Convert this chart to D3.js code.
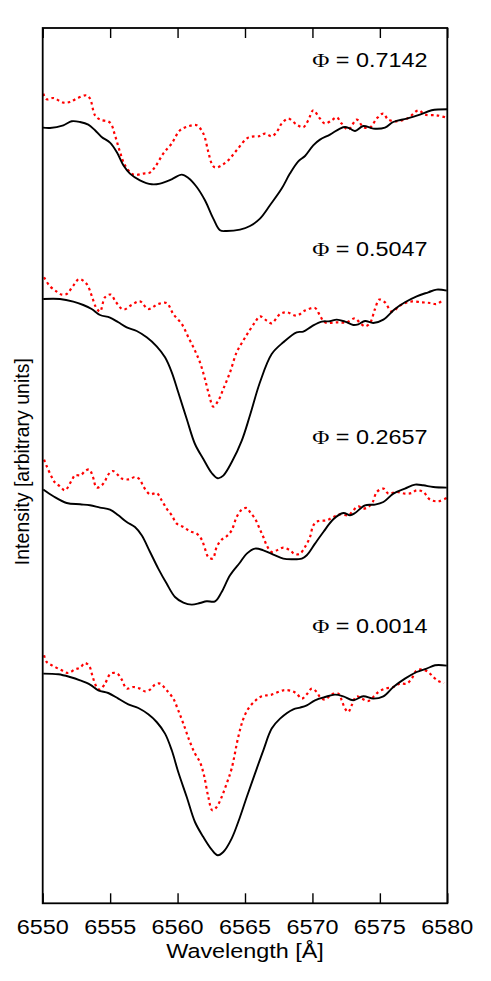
<!DOCTYPE html>
<html>
<head>
<meta charset="utf-8">
<script src="https://cdn.jsdelivr.net/npm/d3@7"></script>
<style>
  html, body { margin: 0; padding: 0; background: #fff; }
  svg { display: block; }
  text { font-family: "Liberation Sans", Arial, Helvetica, sans-serif; fill: #000; }
</style>
</head>
<body>
<svg id="chart" width="491" height="981"></svg>
<script>
// ---------------- DATA (wavelength in Å, intensity in arbitrary units) ----------------
const xTicks = [6550, 6555, 6560, 6565, 6570, 6575, 6580];
const phaseLabels = ["0.7142", "0.5047", "0.2657", "0.0014"];

// Phase 0.7142
const solid7142 = [
  [6550.00,775.7],[6550.54,775.3],[6551.53,778.0],[6552.15,782.0],[6552.77,781.3],[6553.38,778.7],
  [6553.88,773.0],[6554.37,766.3],[6554.99,760.7],[6555.49,751.3],[6555.98,738.0],[6556.47,729.7],
  [6557.21,723.0],[6558.08,719.0],[6558.70,719.7],[6559.56,724.0],[6560.31,728.7],[6560.80,725.3],
  [6561.42,716.3],[6562.03,703.0],[6562.65,684.7],[6563.15,673.0],[6563.64,672.3],[6564.63,673.7],
  [6565.37,677.3],[6566.11,684.7],[6566.85,698.0],[6567.72,714.7],[6568.33,729.7],[6568.95,742.0],
  [6569.45,747.3],[6570.06,758.0],[6570.56,763.7],[6571.30,768.7],[6572.04,774.7],[6572.41,776.3],
  [6572.79,774.7],[6573.16,772.3],[6573.77,777.3],[6574.51,774.7],[6575.38,775.7],[6575.99,781.3],
  [6576.99,784.7],[6577.97,788.7],[6578.84,793.0],[6580.00,794.0]
];
const dotted7142 = [
  [6550.04,809.7],[6550.30,804.0],[6550.79,805.3],[6551.53,800.7],[6552.02,801.3],[6552.52,804.7],
  [6553.26,808.0],[6553.51,804.7],[6553.88,788.0],[6554.25,783.7],[6554.99,780.7],[6555.36,768.0],
  [6555.73,751.3],[6556.10,738.0],[6556.72,728.7],[6557.46,729.7],[6557.95,730.7],[6558.33,736.3],
  [6558.94,749.7],[6559.56,759.7],[6560.18,773.0],[6560.80,777.0],[6561.42,778.0],[6561.91,769.7],
  [6562.28,751.3],[6562.53,739.7],[6562.78,735.7],[6563.27,738.0],[6563.76,743.0],[6564.38,753.0],
  [6565.24,765.7],[6566.11,767.3],[6566.48,769.7],[6566.98,767.0],[6567.35,771.3],[6567.72,779.7],
  [6568.21,784.7],[6568.83,778.7],[6569.32,776.0],[6569.69,783.0],[6570.06,793.0],[6570.56,784.7],
  [6570.93,779.7],[6571.43,783.0],[6571.80,786.0],[6572.17,779.7],[6572.66,773.7],[6573.28,783.7],
  [6573.77,776.3],[6574.27,775.7],[6574.76,784.7],[6575.25,789.7],[6575.62,783.7],[6576.25,782.0],
  [6577.11,785.3],[6577.85,793.0],[6578.35,788.7],[6579.21,788.0],[6579.83,786.0]
];

// Phase 0.5047
const solid5047 = [
  [6550.04,604.3],[6551.28,604.3],[6552.27,601.7],[6553.01,598.3],[6553.63,594.3],[6554.25,588.3],
  [6554.99,585.7],[6555.61,581.0],[6556.23,576.0],[6556.97,572.3],[6557.71,566.0],[6558.45,557.0],
  [6559.07,546.0],[6559.57,531.0],[6560.05,511.0],[6560.68,484.3],[6561.29,459.3],[6561.91,444.3],
  [6562.53,430.3],[6562.98,425.0],[6563.39,427.7],[6564.01,441.0],[6564.76,462.7],[6565.37,488.0],
  [6566.11,521.0],[6566.98,549.3],[6567.84,561.0],[6568.83,571.0],[6569.32,571.7],[6569.95,577.0],
  [6570.69,581.7],[6571.30,582.0],[6571.80,583.7],[6572.42,581.7],[6573.03,578.3],[6573.40,579.0],
  [6573.90,582.3],[6574.51,580.3],[6575.26,583.7],[6576.12,594.3],[6576.86,601.0],[6577.73,607.0],
  [6578.59,611.0],[6579.21,613.7],[6579.96,612.7]
];
const dotted5047 = [
  [6550.10,626.0],[6550.54,617.0],[6551.04,611.7],[6551.41,608.7],[6551.78,609.3],[6552.27,617.7],
  [6552.71,624.3],[6553.26,619.3],[6553.63,607.7],[6553.95,596.0],[6554.25,591.7],[6554.62,606.0],
  [6555.04,608.7],[6555.44,601.0],[6555.98,593.7],[6556.60,598.3],[6557.21,602.0],[6557.83,594.3],
  [6558.57,599.3],[6559.19,600.3],[6559.68,589.3],[6560.31,579.3],[6560.80,566.0],[6561.29,552.7],
  [6561.66,541.0],[6562.03,524.3],[6562.35,507.7],[6562.65,496.7],[6563.02,502.7],[6563.39,514.3],
  [6563.89,531.0],[6564.38,551.0],[6564.87,562.7],[6565.25,571.0],[6565.74,581.0],[6566.11,587.0],
  [6566.61,582.7],[6566.98,580.0],[6567.60,589.3],[6568.09,591.0],[6568.83,587.7],[6569.45,592.7],
  [6570.19,595.3],[6570.56,587.7],[6570.93,581.0],[6571.80,581.0],[6572.54,581.0],[6573.16,585.0],
  [6573.53,580.3],[6573.90,577.0],[6574.27,580.3],[6574.64,594.3],[6574.96,603.7],[6575.38,601.0],
  [6575.88,591.7],[6576.49,597.7],[6577.24,601.7],[6578.10,601.0],[6578.72,600.3],[6579.21,599.3],
  [6579.70,603.7]
];

// Phase 0.2657
const solid2657 = [
  [6550.04,413.7],[6550.79,407.0],[6551.78,400.3],[6552.77,399.0],[6553.51,398.0],[6554.25,395.7],
  [6554.99,393.7],[6555.61,388.0],[6556.23,381.3],[6556.84,376.3],[6557.34,368.0],[6557.96,351.3],
  [6558.57,334.7],[6559.19,319.7],[6559.81,306.3],[6560.43,300.7],[6561.05,298.7],[6561.66,300.3],
  [6562.16,302.0],[6562.78,302.0],[6563.27,311.3],[6563.89,328.0],[6564.63,340.8],[6565.13,349.7],
  [6565.74,354.7],[6566.36,353.0],[6567.10,348.7],[6567.84,344.7],[6568.46,344.0],[6569.21,344.7],
  [6569.58,348.0],[6570.19,359.7],[6570.81,371.3],[6571.55,384.0],[6572.29,390.3],[6572.79,388.0],
  [6573.16,390.3],[6573.90,398.0],[6574.64,398.7],[6575.26,401.3],[6576.00,409.7],[6576.86,414.7],
  [6577.61,418.7],[6578.22,418.0],[6578.96,416.3],[6579.96,415.7]
];
const dotted2657 = [
  [6550.10,443.7],[6550.30,437.0],[6550.67,426.3],[6550.91,420.7],[6551.28,417.0],[6551.65,413.0],
  [6552.15,423.0],[6552.40,428.0],[6552.82,428.0],[6553.14,432.3],[6553.46,433.7],[6553.71,427.0],
  [6554.00,415.7],[6554.37,418.0],[6554.62,422.3],[6554.86,428.7],[6555.19,432.3],[6555.53,429.0],
  [6555.86,424.7],[6556.42,424.0],[6556.84,426.3],[6557.21,423.7],[6557.46,417.0],[6557.96,409.0],
  [6558.45,410.3],[6558.82,403.0],[6559.19,394.7],[6559.57,388.0],[6559.94,379.7],[6560.43,376.3],
  [6560.92,372.0],[6561.42,369.7],[6561.79,363.7],[6562.03,354.7],[6562.28,346.3],[6562.61,344.7],
  [6562.90,356.3],[6563.27,363.7],[6563.64,367.0],[6564.01,373.0],[6564.38,386.3],[6564.76,393.7],
  [6565.13,395.3],[6565.37,391.3],[6565.74,384.7],[6566.11,373.7],[6566.36,366.3],[6566.61,358.0],
  [6566.98,351.3],[6567.47,353.7],[6567.84,355.7],[6568.34,353.0],[6568.71,349.0],[6569.08,349.7],
  [6569.45,356.3],[6569.82,366.3],[6570.07,378.0],[6570.44,382.3],[6571.06,383.0],[6571.55,386.3],
  [6572.05,389.0],[6572.66,388.0],[6573.03,393.0],[6573.40,397.0],[6573.77,394.7],[6574.14,396.3],
  [6574.47,401.3],[6574.77,411.3],[6575.26,414.7],[6575.63,409.7],[6576.25,411.3],[6576.86,409.7],
  [6577.36,410.3],[6577.73,413.0],[6578.22,411.3],[6578.72,403.7],[6579.33,402.0],[6579.96,405.3]
];

// Phase 0.0014
const solid0014 = [
  [6550.04,229.7],[6551.16,229.0],[6552.02,226.3],[6552.77,223.0],[6553.51,218.7],[6554.12,213.0],
  [6554.86,210.3],[6555.61,204.7],[6556.35,199.0],[6557.09,195.3],[6557.83,189.0],[6558.45,181.3],
  [6559.07,169.7],[6559.57,153.0],[6560.05,131.3],[6560.68,106.3],[6561.29,81.3],[6561.91,66.3],
  [6562.53,53.7],[6562.98,48.0],[6563.39,51.3],[6564.01,64.7],[6564.63,86.3],[6565.13,106.3],
  [6565.74,129.7],[6566.36,153.0],[6566.98,174.7],[6567.60,184.7],[6568.58,194.0],[6569.08,195.7],
  [6569.58,198.0],[6570.19,203.0],[6570.93,206.3],[6571.67,208.7],[6572.29,207.0],[6573.03,203.0],
  [6573.77,207.0],[6574.51,204.7],[6575.26,207.0],[6576.00,216.3],[6576.86,224.7],[6577.73,231.3],
  [6578.47,234.7],[6579.09,238.0],[6579.96,237.7]
];
const dotted0014 = [
  [6550.10,248.0],[6550.30,241.3],[6550.79,237.3],[6551.41,233.0],[6551.90,230.3],[6552.40,234.0],
  [6552.77,235.7],[6553.14,240.3],[6553.46,237.0],[6553.71,226.3],[6554.00,216.3],[6554.25,213.7],
  [6554.62,219.7],[6555.04,229.7],[6555.53,229.7],[6555.86,223.7],[6556.23,214.7],[6556.72,216.3],
  [6557.21,214.7],[6557.59,212.0],[6557.96,213.7],[6558.33,218.7],[6558.70,219.7],[6559.19,213.0],
  [6559.68,204.7],[6560.05,193.0],[6560.43,179.7],[6560.87,163.0],[6561.29,149.7],[6561.66,141.3],
  [6561.96,128.0],[6562.28,106.3],[6562.58,93.0],[6562.90,96.3],[6563.27,106.3],[6563.64,119.7],
  [6564.01,134.7],[6564.50,166.3],[6564.87,184.2],[6565.25,194.7],[6565.74,202.3],[6566.24,207.0],
  [6566.98,208.7],[6567.84,213.0],[6568.46,212.3],[6568.83,209.7],[6569.21,204.7],[6569.58,209.0],
  [6569.95,214.7],[6570.32,211.3],[6570.56,206.3],[6570.93,203.7],[6571.43,209.0],[6571.92,209.7],
  [6572.17,203.0],[6572.42,194.7],[6572.66,191.3],[6572.91,198.0],[6573.28,207.0],[6573.65,204.7],
  [6574.14,202.3],[6574.51,206.3],[6574.89,211.3],[6575.38,214.7],[6576.00,216.3],[6576.49,219.7],
  [6576.99,219.7],[6577.36,224.7],[6577.73,233.0],[6578.18,233.7],[6578.59,231.3],[6578.96,226.3],
  [6579.33,222.3],[6579.76,220.3]
];

// ---------------- LAYOUT ----------------
const margin = { left: 42.7, right: 43.7, top: 28, bottom: 77.7 };
const W = 491, H = 981;
const plotW = W - margin.left - margin.right;
const plotH = H - margin.top - margin.bottom;
const labelLevels = [836.3, 647.8, 459.3, 270.8]; // baseline of phase labels in intensity units
const stretch = 1.2; // horizontal glyph stretch seen in the reference

const svg = d3.select("#chart");
const x = d3.scaleLinear().domain([6550, 6580]).range([margin.left, margin.left + plotW]);
const y = d3.scaleLinear().domain([0, 875.3]).range([margin.top + plotH, margin.top]);

svg.append("defs").append("clipPath").attr("id", "plotclip")
  .append("rect").attr("x", margin.left).attr("y", margin.top)
  .attr("width", plotW).attr("height", plotH);

const line = d3.line()
  .x(d => x(d[0])).y(d => y(d[1]))
  .curve(d3.curveCatmullRom.alpha(0.5));

const gLines = svg.append("g").attr("clip-path", "url(#plotclip)");
const solids = [solid7142, solid5047, solid2657, solid0014];
const dotteds = [dotted7142, dotted5047, dotted2657, dotted0014];

dotteds.forEach(s => {
  gLines.append("path").datum(s).attr("d", line)
    .attr("fill", "none").attr("stroke", "#ff0000")
    .attr("stroke-width", 2.2).attr("stroke-dasharray", "2.6,3.2");
});
solids.forEach(s => {
  gLines.append("path").datum(s).attr("d", line)
    .attr("fill", "none").attr("stroke", "#000")
    .attr("stroke-width", 1.9).attr("stroke-linejoin", "round");
});

// Axes (ticks inward on bottom and top)
const bottomAxis = d3.axisBottom(x).tickValues(xTicks).tickSize(-10).tickFormat("");
const topAxis = d3.axisTop(x).tickValues(xTicks).tickSize(-10).tickFormat("");
const gb = svg.append("g").attr("transform", `translate(0,${margin.top + plotH})`).call(bottomAxis);
const gt = svg.append("g").attr("transform", `translate(0,${margin.top})`).call(topAxis);
[gb, gt].forEach(g => {
  g.select(".domain").remove();
  g.selectAll(".tick line").attr("stroke", "#000").attr("stroke-width", 1.4);
});

// Frame
svg.append("rect")
  .attr("x", margin.left).attr("y", margin.top)
  .attr("width", plotW).attr("height", plotH)
  .attr("fill", "none").attr("stroke", "#000").attr("stroke-width", 1.8);

// Tick labels
svg.append("g").selectAll("text").data(xTicks).join("text")
  .attr("transform", d => `translate(${x(d)},934) scale(${stretch},1)`)
  .attr("text-anchor", "middle")
  .style("font-size", "19.5px")
  .text(d => d);

// Axis titles
svg.append("text")
  .attr("transform", `translate(${margin.left + plotW / 2},957.5) scale(${stretch},1)`)
  .attr("text-anchor", "middle").style("font-size", "19.5px")
  .text("Wavelength [Å]");

svg.append("text")
  .attr("transform", `translate(29,${margin.top + plotH / 2 - 4}) rotate(-90)`)
  .attr("text-anchor", "middle").style("font-size", "19.5px")
  .text("Intensity [arbitrary units]");

// Phase labels
phaseLabels.forEach((p, i) => {
  const t = svg.append("text")
    .attr("transform", `translate(427.5,${y(labelLevels[i])}) scale(${stretch},1)`)
    .attr("text-anchor", "end").style("font-size", "19.5px");
  t.append("tspan").style("font-family", "'Liberation Serif', 'Times New Roman', serif").text("Φ");
  t.append("tspan").text(" = " + p);
});
</script>
</body>
</html>
